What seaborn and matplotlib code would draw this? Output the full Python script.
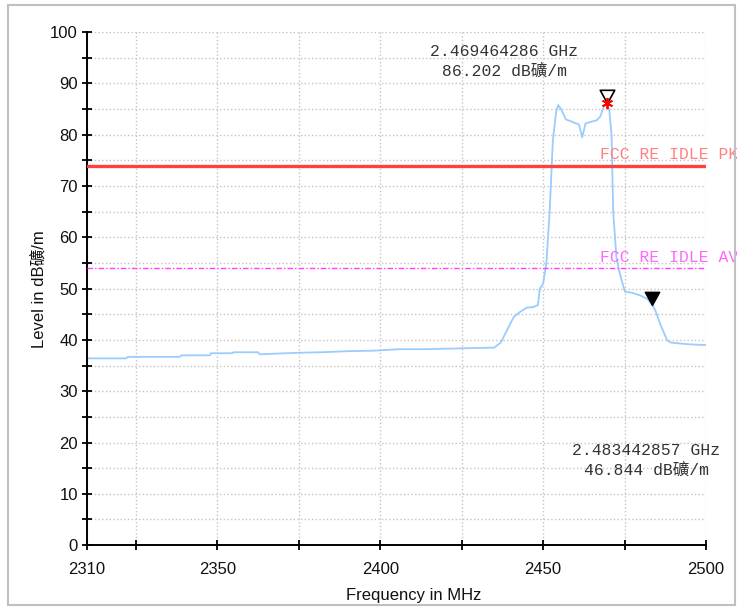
import numpy as np
import pandas as pd
import matplotlib
matplotlib.use("Agg")
import matplotlib.pyplot as plt
from matplotlib.path import Path
from matplotlib.patches import Rectangle
import seaborn as sns

freq_mhz = [2310, 2322, 2322.5, 2338.5, 2339, 2347.8, 2348, 2354.5, 2355, 2362.5,
            2363, 2375, 2382, 2390, 2398, 2406, 2414, 2421, 2428, 2435,
            2437, 2439, 2441, 2443, 2445, 2447, 2448.4, 2449, 2450, 2451,
            2452, 2453, 2454, 2454.6, 2455.5, 2457, 2459, 2461, 2462, 2463,
            2464.5, 2466.4, 2467.5, 2468.5, 2469.46, 2470.3, 2471, 2471.5, 2472.5, 2473.3,
            2474.1, 2475.1, 2477.2, 2479.7, 2482, 2483.44, 2484.4, 2486, 2488, 2489,
            2492, 2496, 2500]
level = [36.4, 36.4, 36.7, 36.7, 37.0, 37.0, 37.4, 37.4, 37.6, 37.6,
         37.2, 37.5, 37.6, 37.8, 37.9, 38.2, 38.2, 38.3, 38.4, 38.5,
         39.5, 42.0, 44.5, 45.5, 46.3, 46.4, 46.8, 50.0, 51.0, 55.0,
         65.0, 79.0, 84.5, 85.8, 85.0, 83.0, 82.5, 82.0, 79.5, 82.2,
         82.5, 82.8, 83.5, 85.3, 86.202, 84.8, 80.0, 65.0, 56.0, 53.6,
         51.6, 49.4, 49.2, 48.7, 48.0, 46.844, 45.8, 43.0, 40.0, 39.5,
         39.3, 39.1, 39.0]

# limit lines
limit_pk = 74
limit_av = 54
limit_pk_label = "FCC RE IDLE PK"
limit_av_label = "FCC RE IDLE AV"

# markers
marker_freq = [2469.464286, 2483.442857]
marker_level = [86.202, 46.844]
marker_text = ["2.469464286 GHz\n86.202 dB礦/m", "2.483442857 GHz\n46.844 dB礦/m"]
marker_text_pos = [(2438, 94.3), (2481.7, 16.5)]

x_ticks = [2310, 2325, 2350, 2375, 2400, 2425, 2450, 2475, 2500]
x_ticklabels = ["2310", "", "2350", "", "2400", "", "2450", "", "2500"]
y_ticks = list(range(0, 101, 5))
y_ticklabels = [str(v) if v % 10 == 0 else "" for v in y_ticks]

df = pd.DataFrame({"freq": freq_mhz, "level": level})

sns.set_theme(style="white")
plt.rcParams["font.family"] = ["Liberation Sans", "Noto Sans CJK SC"]
mono = ["Liberation Mono", "Noto Sans CJK SC"]

fig = plt.figure(figsize=(7.37, 6.07), dpi=100)
ax = fig.add_axes([0.118, 0.102, 0.840, 0.845])

# trace
sns.lineplot(data=df, x="freq", y="level", estimator=None, sort=False,
             color="#99ccff", linewidth=1.3, ax=ax)

# limits
ax.axhline(limit_pk, color="#ff4040", linewidth=2.4, zorder=3)
ax.axhline(limit_av, color="#ff40ff", linewidth=1.0, linestyle=(0, (4, 1.5, 1, 1.5)), zorder=3)
ax.text(2467.5, limit_pk + 0.6, limit_pk_label, family=mono, fontsize=11.8,
        color="#ff8080", va="bottom", ha="left", clip_on=False)
ax.text(2467.5, limit_av + 0.6, limit_av_label, family=mono, fontsize=11.8,
        color="#ff66ff", va="bottom", ha="left", clip_on=False)

# marker triangles with tip on the point
tri = Path([(-0.55, 1.0), (0.55, 1.0), (0.0, 0.0), (-0.55, 1.0)],
           [Path.MOVETO, Path.LINETO, Path.LINETO, Path.CLOSEPOLY])
ax.plot(marker_freq[0], marker_level[0], marker=tri, markersize=19,
        markerfacecolor="white", markeredgecolor="black", markeredgewidth=1.2,
        linestyle="none", zorder=5, clip_on=False)
ax.plot(marker_freq[0], marker_level[0], marker=(6, 2, 0), markersize=8,
        color="red", markeredgewidth=1.3, linestyle="none", zorder=6)
ax.plot(marker_freq[1], marker_level[1], marker=tri, markersize=19,
        markerfacecolor="black", markeredgecolor="black", markeredgewidth=1.0,
        linestyle="none", zorder=5)

for txt, (tx, ty) in zip(marker_text, marker_text_pos):
    ax.text(tx, ty, txt, family=mono, fontsize=11.8, color="#333333",
            ha="center", va="center", multialignment="center",
            linespacing=1.3, clip_on=False)

# axes styling
ax.set_xlim(2310, 2500)
ax.set_ylim(0, 100)
ax.set_xticks(x_ticks)
ax.set_xticklabels(x_ticklabels)
ax.set_yticks(y_ticks)
ax.set_yticklabels(y_ticklabels)
ax.grid(True, color="#c4c4c4", linestyle=":", linewidth=1.0)
ax.set_axisbelow(True)
for side in ["top", "right"]:
    ax.spines[side].set_visible(False)
for side in ["left", "bottom"]:
    ax.spines[side].set_color("black")
    ax.spines[side].set_linewidth(1.4)
ax.tick_params(axis="both", direction="inout", length=7, width=1.3,
               color="black", labelsize=12, labelcolor="#111111", pad=3)
ax.tick_params(axis="x", pad=9)
ax.tick_params(axis="y", left=True)
ax.tick_params(axis="x", bottom=True)

ax.set_xlabel("Frequency in MHz", fontsize=12, color="#111111")
ax.set_ylabel("Level in dB礦/m", fontsize=12, color="#111111")
ax.xaxis.set_label_coords(0.527, -0.083)
ax.yaxis.set_label_coords(-0.066, 0.5)

# outer frame
fig.patches.append(Rectangle((0.011, 0.003), 0.986, 0.988, transform=fig.transFigure,
                             fill=False, edgecolor="#c0c0c0", linewidth=1.5))

fig.savefig("out.png", dpi=100, facecolor="white")
